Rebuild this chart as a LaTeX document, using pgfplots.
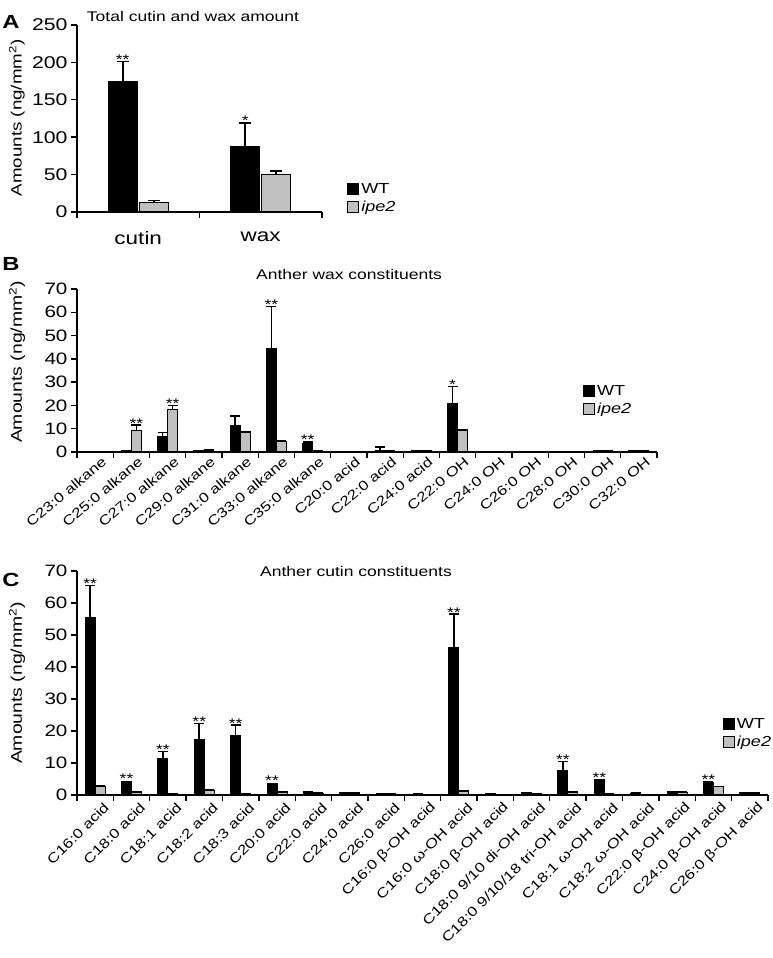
\documentclass[border=0pt]{standalone}
\usepackage{fontspec}
\setmainfont{Liberation Sans}[FakeStretch=1.25]
\usepackage{pgfplots}
\usepackage{pgfplotstable}
\pgfplotsset{compat=1.18}

\newcommand{\fs}[1]{\fontsize{#1}{#1}\selectfont}
\definecolor{ipegray}{RGB}{192,192,192}

% panel A: total amounts
\pgfplotstableread{
x wt wterr ip iperr
0 174 27 13 2.5
1 87 32 50 5
}\Adata

% panel B: wax constituents
\pgfplotstableread{
x wt wterr ip iperr
0 0.2 0 0.1 0
1 0.5 0 9.3 2.2
2 6.6 1.7 18.4 1.6
3 0.5 0 0.8 0
4 11.4 4.0 8.6 0
5 44.4 18.1 4.6 0
6 3.5 0.8 0.5 0
7 0.1 0 0.1 0
8 0.8 1.4 0.3 0
9 0.3 0 0.5 0
10 21.0 7.2 9.5 0
11 0.2 0 0.2 0
12 0.2 0 0.2 0
13 0.1 0 0.1 0
14 0.3 0 0.3 0
15 0.6 0 0.6 0
}\Bdata

% panel C: cutin constituents
\pgfplotstableread{
x wt wterr ip iperr
0 55.5 10.0 2.8 0
1 4.2 0 1.0 0
2 11.4 2.2 0.4 0
3 17.4 5.0 1.5 0
4 18.6 3.2 0.3 0
5 3.5 0 1.0 0
6 0.9 0 0.6 0
7 0.8 0 0.7 0
8 0.3 0 0.3 0
9 0.3 0 0.2 0
10 46.0 10.5 1.3 0
11 0.5 0 0.2 0
12 0.7 0 0.3 0
13 7.6 2.9 1.0 0
14 4.7 0 0.3 0
15 0.6 0 0.2 0
16 1.1 0 0.9 0
17 4.0 0 2.6 0
18 0.8 0 0.7 0
}\Cdata

\pgfplotsset{
  panel/.style={
    scale only axis, anchor=south west,
    axis x line*=bottom, axis y line*=left,
    axis line style={line width=1.4pt,-},
    tick align=outside, major tick length=6pt,
    tick style={line width=1.4pt, black},
    enlargelimits=false, ymin=0, clip=false,
    /pgf/number format/assume math mode=true,
    xticklabels={},
    legend cell align=left,
  },
  sq legend/.style={legend image code/.code={\draw[##1, line width=1pt] (0pt,-5.5pt) rectangle (11pt,5.5pt);}},
  wtbar/.style={fill=black, draw=black, line width=1pt, sq legend,
    error bars/.cd, y dir=plus, y explicit,
    error bar style={line width=1.6pt, black},
    error mark options={rotate=90, line width=1.6pt, mark size=#1, black}},
  ipbar/.style={fill=ipegray, draw=black, line width=1pt, sq legend,
    error bars/.cd, y dir=plus, y explicit,
    error bar style={line width=1.6pt, black},
    error mark options={rotate=90, line width=1.6pt, mark size=#1, black}},
}
\tikzset{sig/.style={font=\fs{14}, anchor=base, inner sep=0pt, yshift=-3pt}}

\begin{document}
\begin{tikzpicture}[x=1pt,y=1pt]
\path[use as bounding box] (0,0) rectangle (773,958);

% ---------- A ----------
\begin{axis}[panel, at={(77pt,746pt)}, width=245pt, height=187pt,
  xmin=-0.5, xmax=1.5, ymax=250, ytick={0,50,...,250},
  xtick={-0.5,0.5,1.5},
  extra x ticks={0,1}, extra x tick labels={cutin,wax},
  extra x tick style={major tick length=0pt, tick label style={font=\fs{18}, yshift=-16pt}},
  tick label style={font=\fs{17}},
  ybar=2pt, bar width=29pt,
  legend style={at={(axis description cs:1.09,0.075)}, anchor=west, draw=none, fill=none, font=\fs{14.5}, row sep=2pt},
]
\addplot[wtbar=6pt] table[x=x, y=wt, y error=wterr] {\Adata};
\addplot[ipbar=6pt] table[x=x, y=ip, y error=iperr] {\Adata};
\legend{WT,\textit{ipe2}}
\node[sig, xshift=-15.5pt] at (axis cs:0,201) {**};
\node[sig, xshift=-15.5pt] at (axis cs:1,119) {*};
\end{axis}

% ---------- B ----------
\begin{axis}[panel, at={(77pt,506pt)}, width=580pt, height=163pt,
  xmin=-0.5, xmax=15.5, ymax=70, ytick={0,10,...,70},
  xtick={-0.5,0.5,...,15.5},
  extra x ticks={0,1,...,15},
  extra x tick labels={C23:0 alkane,C25:0 alkane,C27:0 alkane,C29:0 alkane,C31:0 alkane,C33:0 alkane,C35:0 alkane,C20:0 acid,C22:0 acid,C24:0 acid,C22:0 OH,C24:0 OH,C26:0 OH,C28:0 OH,C30:0 OH,C32:0 OH},
  extra x tick style={major tick length=0pt, tick label style={font=\fs{13.5}, rotate=40, anchor=east, inner sep=1pt, yshift=-12pt, xshift=3pt}},
  tick label style={font=\fs{16.5}},
  ybar=0pt, bar width=10pt,
  legend style={at={(axis description cs:0.867,0.32)}, anchor=west, draw=none, fill=none, font=\fs{14.5}, row sep=2pt},
]
\addplot[wtbar=5pt] table[x=x, y=wt, y error=wterr] {\Bdata};
\addplot[ipbar=5pt] table[x=x, y=ip, y error=iperr] {\Bdata};
\legend{WT,\textit{ipe2}}
\node[sig, xshift=5pt] at (axis cs:1,11.5) {**};
\node[sig, xshift=5pt] at (axis cs:2,20) {**};
\node[sig, xshift=-5pt] at (axis cs:5,62.5) {**};
\node[sig, xshift=-5pt] at (axis cs:6,4.3) {**};
\node[sig, xshift=-5pt] at (axis cs:10,28.2) {*};
\end{axis}

% ---------- C ----------
\begin{axis}[panel, at={(77pt,163pt)}, width=691pt, height=224pt,
  xmin=-0.5, xmax=18.5, ymax=70, ytick={0,10,...,70},
  xtick={-0.5,0.5,...,18.5},
  extra x ticks={0,1,...,18},
  extra x tick labels={C16:0 acid,C18:0 acid,C18:1 acid,C18:2 acid,C18:3 acid,C20:0 acid,C22:0 acid,C24:0 acid,C26:0 acid,C16:0 β-OH acid,C16:0 ω-OH acid,C18:0 β-OH acid,C18:0 9/10 di-OH acid,C18:0 9/10/18 tri-OH acid,C18:1 ω-OH acid,C18:2 ω-OH acid,C22:0 β-OH acid,C24:0 β-OH acid,C26:0 β-OH acid},
  extra x tick style={major tick length=0pt, tick label style={font=\fs{13.5}, rotate=45, anchor=east, inner sep=1pt, yshift=-15pt, xshift=2pt}},
  tick label style={font=\fs{16.5}},
  ybar=0pt, bar width=10pt,
  legend style={at={(axis description cs:0.93,0.277)}, anchor=west, draw=none, fill=none, font=\fs{14.5}, row sep=2pt},
]
\addplot[wtbar=5pt] table[x=x, y=wt, y error=wterr] {\Cdata};
\addplot[ipbar=5pt] table[x=x, y=ip, y error=iperr] {\Cdata};
\legend{WT,\textit{ipe2}}
\node[sig, xshift=-5pt] at (axis cs:0,65.5) {**};
\node[sig, xshift=-5pt] at (axis cs:1,4.5) {**};
\node[sig, xshift=-5pt] at (axis cs:2,13.6) {**};
\node[sig, xshift=-5pt] at (axis cs:3,22.4) {**};
\node[sig, xshift=-5pt] at (axis cs:4,21.8) {**};
\node[sig, xshift=-5pt] at (axis cs:5,3.8) {**};
\node[sig, xshift=-5pt] at (axis cs:10,56.5) {**};
\node[sig, xshift=-5pt] at (axis cs:13,10.5) {**};
\node[sig, xshift=-5pt] at (axis cs:14,5.0) {**};
\node[sig, xshift=-5pt] at (axis cs:17,4.3) {**};
\end{axis}

% titles, panel letters, y labels
\node[font=\fs{14}] at (193,941) {Total cutin and wax amount};
\node[font=\fs{14}] at (349,683) {Anther wax constituents};
\node[font=\fs{14}] at (356,386) {Anther cutin constituents};
\node[font=\bfseries\fs{19}] at (11,936) {A};
\node[font=\bfseries\fs{19}] at (11,694) {B};
\node[font=\bfseries\fs{19}] at (11,378) {C};
\node[font=\fs{15}, rotate=90] at (17,840) {Amounts (ng/mm\textsuperscript{2})};
\node[font=\fs{15.5}, rotate=90] at (17,596) {Amounts (ng/mm\textsuperscript{2})};
\node[font=\fs{15.5}, rotate=90] at (17,275) {Amounts (ng/mm\textsuperscript{2})};
\end{tikzpicture}
\end{document}
